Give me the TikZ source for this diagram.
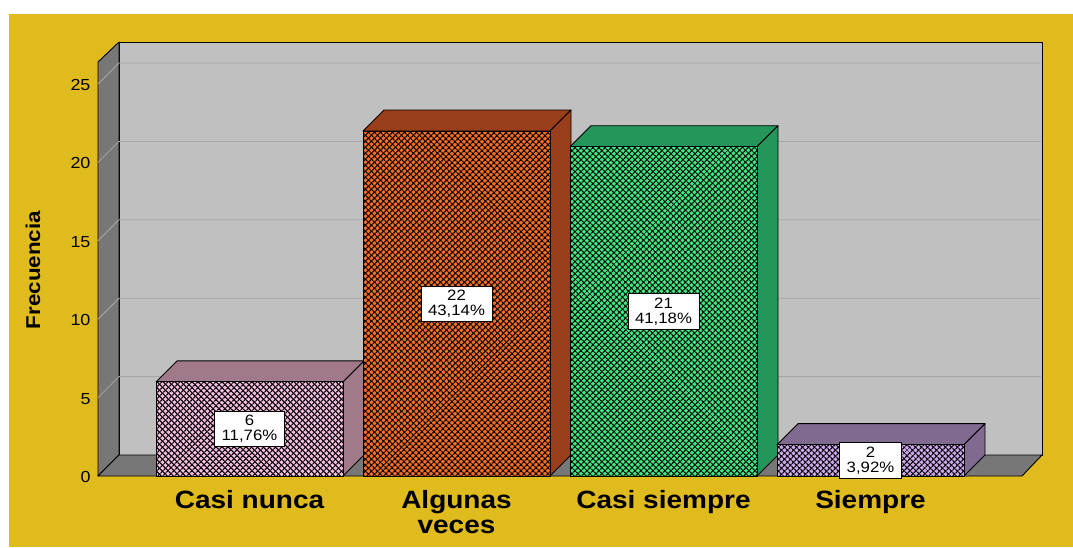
\documentclass[tikz,border=0pt]{standalone}
\usepackage{fontspec}
\setmainfont{Liberation Sans}[FakeStretch=1.12]
\usetikzlibrary{patterns.meta}

\definecolor{fondo}{HTML}{E0BB1E}
\definecolor{pared}{HTML}{C0C0C0}
\definecolor{lado}{HTML}{777777}
\definecolor{rejilla}{HTML}{A8A8A8}
\definecolor{nuncaF}{HTML}{F6BCE2}
\definecolor{nuncaL}{HTML}{A07A8A}
\definecolor{algunasF}{HTML}{FA6E22}
\definecolor{algunasL}{HTML}{983E1A}
\definecolor{casiF}{HTML}{3EEA80}
\definecolor{casiL}{HTML}{24965A}
\definecolor{siempreF}{HTML}{CEA8EC}
\definecolor{siempreL}{HTML}{806A90}

\tikzset{
  cara/.style={draw=black, line width=0.9pt, line join=round},
  tramaA/.style={pattern={Lines[angle=45,distance=4pt,line width=1.25pt]}, pattern color=black},
  tramaB/.style={pattern={Lines[angle=-45,distance=4pt,line width=1.25pt]}, pattern color=black},
  caja/.style={draw=black, fill=white, line width=0.6pt, align=center, inner xsep=7pt, inner ysep=4pt, font=\fontsize{15}{15}\selectfont},
  categ/.style={align=center, font=\fontsize{25}{25}\selectfont\bfseries, anchor=base},
  marca/.style={left, font=\fontsize{16}{16}\selectfont}
}

\begin{document}
\begin{tikzpicture}[x=1pt,y=-1pt]
\fill[white] (0,0) rectangle (1073,547);
\useasboundingbox (0,0) rectangle (1073,547);
\fill[fondo] (9,14) rectangle (1073,547);
% paredes y piso
\filldraw[fill=pared, cara] (119,42) rectangle (1042,455);
\filldraw[fill=lado, cara] (98,62) -- (119,42) -- (119,455) -- (98,476) -- cycle;
\filldraw[fill=lado, cara] (98,476) -- (119,455) -- (1042,455) -- (1022,476) -- cycle;
% rejilla
\foreach \v in {5,10,...,25} \draw [rejilla, line width=0.8pt] (98,476-\v*15.68) -- (119,455-\v*15.68) -- (1041,455-\v*15.68);
\foreach \v in {0,5,...,25} \node [marca] (marca\v) at (94,477-\v*15.68) {\v};
% barras
\foreach \i/\v/\fc/\lc/\pct in {0/6/nuncaF/nuncaL/{11,76\%}, 1/22/algunasF/algunasL/{43,14\%}, 2/21/casiF/casiL/{41,18\%}, 3/2/siempreF/siempreL/{3,92\%}} {
  \pgfmathsetmacro\xa{156+207*\i}
  \pgfmathsetmacro\xb{\xa+187}
  \pgfmathsetmacro\yt{476-\v*15.68}
  \filldraw [fill=\lc, cara] (\xa,\yt) -- ++(21,-21) -- (\xb+21,\yt-21) -- (\xb,\yt) -- cycle;
  \filldraw [fill=\lc, cara] (\xb,\yt) -- (\xb+21,\yt-21) -- (\xb+21,455) -- (\xb,476) -- cycle;
  \fill [\fc] (\xa,\yt) rectangle (\xb,476);
  \fill [tramaA] (\xa,\yt) rectangle (\xb,476);
  \fill [tramaB] (\xa,\yt) rectangle (\xb,476);
  \draw [cara] (\xa,\yt) rectangle (\xb,476);
  \node [caja] (dato\i) at ({(\xa+\xb)/2},{(\yt+476)/2}) {\v\\\pct};
}
% categorias
\node [categ] (cat0) at (249.5,508) {Casi nunca};
\node [categ] (cat1) at (456.5,533) {Algunas\\veces};
\node [categ] (cat2) at (663.5,508) {Casi siempre};
\node [categ] (cat3) at (870.5,508) {Siempre};
\node [rotate=90, font=\fontsize{20}{20}\selectfont\bfseries] (eje) at (33,270) {Frecuencia};
\end{tikzpicture}
\end{document}
